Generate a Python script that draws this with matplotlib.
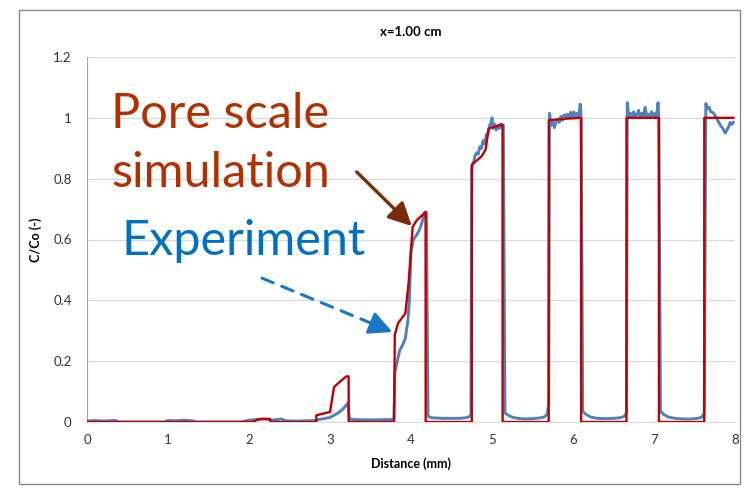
import matplotlib

matplotlib.use("Agg")
import matplotlib.pyplot as plt
from matplotlib.patches import Rectangle

plt.rcParams["font.family"] = ["Lato", "DejaVu Sans"]

# pore scale simulation (red step curve)
sim_x = [0.00, 2.05, 2.12, 2.26, 2.27, 2.83, 2.831, 3.00, 3.05, 3.10, 3.20, 3.23, 3.231,
         3.79, 3.80, 3.84, 3.93, 3.97, 4.02, 4.07, 4.18, 4.181,
         4.75, 4.751, 4.87, 4.92, 4.96, 5.13, 5.131,
         5.70, 5.701, 5.90, 6.10, 6.101,
         6.66, 6.661, 7.06, 7.061,
         7.62, 7.621, 7.98]
sim_y = [0.000, 0.000, 0.010, 0.010, 0.000, 0.000, 0.022, 0.033, 0.115, 0.127, 0.150, 0.150, 0.000,
         0.000, 0.286, 0.325, 0.357, 0.456, 0.641, 0.663, 0.690, 0.000,
         0.000, 0.846, 0.873, 0.895, 0.965, 0.978, 0.000,
         0.000, 0.992, 0.997, 1.000, 0.000,
         0.000, 1.000, 1.000, 0.000,
         0.000, 1.000, 1.000]

# experiment (blue, noisy)
exp_x = [0.00, 0.10, 0.20, 0.35, 0.40, 0.95, 1.00, 1.10, 1.20, 1.30, 1.35, 1.90, 2.00, 2.10,
         2.20, 2.28, 2.35, 2.40, 2.45, 2.60, 2.80, 2.90, 3.00, 3.05, 3.10, 3.15, 3.20, 3.22,
         3.24, 3.30, 3.50, 3.75, 3.79, 3.80, 3.83, 3.86, 3.90, 3.93, 3.96, 3.98, 4.00, 4.03,
         4.07, 4.11, 4.14, 4.17, 4.19, 4.21, 4.25, 4.40, 4.60, 4.70, 4.74,
         4.75, 4.77, 4.79, 4.81, 4.83, 4.85, 4.87, 4.89, 4.91, 4.93, 4.95, 4.97, 4.99, 5.00,
         5.01, 5.03, 5.05, 5.07, 5.09, 5.11, 5.13, 5.14,
         5.16, 5.20, 5.25, 5.32, 5.40, 5.50, 5.58, 5.64, 5.68, 5.70,
         5.71, 5.73, 5.75, 5.77, 5.79, 5.81, 5.83, 5.85, 5.87, 5.89, 5.91, 5.93, 5.95, 5.97,
         5.99, 6.01, 6.03, 6.05, 6.07, 6.09, 6.10,
         6.12, 6.16, 6.22, 6.30, 6.40, 6.50, 6.58, 6.63, 6.66,
         6.67, 6.69, 6.71, 6.73, 6.75, 6.77, 6.79, 6.81, 6.83, 6.85, 6.87, 6.89, 6.91, 6.93,
         6.95, 6.97, 6.99, 7.01, 7.03, 7.05, 7.06,
         7.08, 7.12, 7.18, 7.26, 7.36, 7.46, 7.54, 7.59, 7.62,
         7.64, 7.66, 7.68, 7.70, 7.73, 7.76, 7.79, 7.82, 7.85, 7.88, 7.90, 7.92, 7.94, 7.96, 7.98]
exp_y = [0.003, 0.005, 0.003, 0.005, 0.000, 0.000, 0.005, 0.004, 0.006, 0.004, 0.000, 0.000, 0.006, 0.008,
         0.010, 0.006, 0.008, 0.010, 0.004, 0.003, 0.005, 0.010, 0.015, 0.022, 0.030, 0.040, 0.055, 0.062,
         0.010, 0.008, 0.007, 0.008, 0.010, 0.160, 0.200, 0.235, 0.255, 0.275, 0.330, 0.400, 0.560, 0.600,
         0.615, 0.635, 0.660, 0.690, 0.690, 0.020, 0.014, 0.012, 0.012, 0.015, 0.022,
         0.840, 0.850, 0.875, 0.885, 0.880, 0.905, 0.900, 0.925, 0.915, 0.945, 0.950, 0.975, 0.985, 1.000,
         0.965, 0.980, 0.960, 0.975, 0.965, 0.980, 0.970, 0.975,
         0.030, 0.022, 0.016, 0.012, 0.010, 0.011, 0.013, 0.016, 0.024, 0.060,
         1.015, 0.975, 0.990, 0.968, 0.985, 0.995, 0.985, 1.005, 0.992, 1.010, 0.998, 1.012, 1.000, 1.018,
         1.005, 1.020, 1.002, 1.015, 1.005, 1.045, 1.000,
         0.035, 0.025, 0.016, 0.012, 0.011, 0.012, 0.014, 0.018, 0.030,
         1.050, 1.005, 1.015, 1.000, 1.020, 1.005, 1.010, 1.025, 1.000, 1.015, 1.005, 1.035, 1.005, 1.012,
         1.000, 1.020, 1.005, 1.015, 1.000, 1.050, 1.000,
         0.035, 0.025, 0.016, 0.012, 0.010, 0.010, 0.012, 0.016, 0.028,
         1.047, 1.030, 1.035, 1.020, 1.017, 1.005, 0.990, 0.975, 0.965, 0.950, 0.960, 0.970, 0.985, 0.978, 0.985]

x_ticks = [0, 1, 2, 3, 4, 5, 6, 7, 8]
y_ticks = [0, 0.2, 0.4, 0.6, 0.8, 1.0, 1.2]
y_tick_labels = ["0", "0.2", "0.4", "0.6", "0.8", "1", "1.2"]

# annotation arrows: (start, tip) in data units
sim_arrow = ((3.33, 0.822), (4.01, 0.644))
exp_arrow = ((2.16, 0.473), (3.77, 0.296))

fig = plt.figure(figsize=(7.55, 4.91), dpi=100)
fig.patches.append(Rectangle((19 / 755, 1 - 484 / 491), 721 / 755, 474 / 491,
                             transform=fig.transFigure, fill=False, edgecolor="#8c8c8c", linewidth=1.0))
ax = fig.add_axes([87 / 755, 1 - 422 / 491, 648 / 755, 365 / 491])

ax.plot(exp_x, exp_y, color="#4f81bd", linewidth=2.1, zorder=3)
ax.plot(sim_x, sim_y, color="#c00000", linewidth=1.7, zorder=4)

ax.set_xlim(0, 8)
ax.set_ylim(0, 1.2)
ax.set_xticks(x_ticks)
ax.set_yticks(y_ticks)
ax.set_yticklabels(y_tick_labels)
ax.tick_params(length=0, labelsize=9.5, colors="#333333")
ax.tick_params(axis="y", pad=11)
ax.tick_params(axis="x", pad=9)
ax.grid(axis="y", color="#d9d9d9", linewidth=0.9)
ax.set_axisbelow(True)
for side in ["top", "right"]:
    ax.spines[side].set_visible(False)
ax.spines["left"].set_color("#a6a6a6")
ax.spines["bottom"].set_color("#d9d9d9")

ax.set_title("x=1.00 cm", fontsize=9.5, fontweight="bold", pad=15)
ax.set_xlabel("Distance (mm)", fontsize=9, fontweight="bold", labelpad=8)
ax.set_ylabel("C/Co (-)", fontsize=9, fontweight="bold", labelpad=8)

ax.text(0.30, 0.966, "Pore scale", color="#b03000", fontsize=35, ha="left", va="baseline")
ax.text(0.30, 0.773, "simulation", color="#b03000", fontsize=35, ha="left", va="baseline")
ax.text(0.43, 0.549, "Experiment", color="#0070c0", fontsize=35, ha="left", va="baseline")

head = "-|>,head_length=1.4,head_width=0.7"
ax.annotate("", xy=sim_arrow[1], xytext=sim_arrow[0],
            arrowprops=dict(arrowstyle=head, color="#7b2a0c", linewidth=2.4,
                            shrinkA=0, shrinkB=0))

# blue arrow: dashed shaft, solid head
(x0, y0), (x1, y1) = exp_arrow
ax.annotate("", xy=(x1 - 0.08 * (x1 - x0), y1 - 0.08 * (y1 - y0)), xytext=(x0, y0),
            arrowprops=dict(arrowstyle="-", color="#1a78c2", linewidth=2.2,
                            linestyle=(0, (4, 3)), shrinkA=0, shrinkB=0))
ax.annotate("", xy=(x1, y1), xytext=(x1 - 0.12 * (x1 - x0), y1 - 0.12 * (y1 - y0)),
            arrowprops=dict(arrowstyle=head, color="#1a78c2", linewidth=2.2,
                            shrinkA=0, shrinkB=0))

fig.savefig("out.png", dpi=100)
